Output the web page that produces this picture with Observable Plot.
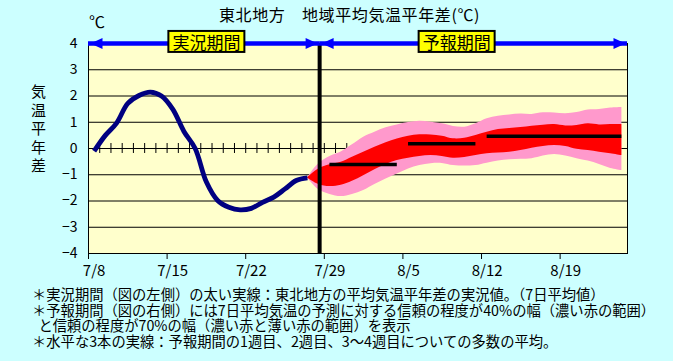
<!DOCTYPE html>
<html>
<head>
<meta charset="utf-8">
<script src="https://cdn.jsdelivr.net/npm/d3@7"></script>
<script src="https://cdn.jsdelivr.net/npm/@observablehq/plot@0.6"></script>
<style>
  body { margin: 0; background: #ccffff; font-family: "Noto Sans CJK JP", sans-serif; color: #000; }
  #wrap { position: relative; width: 673px; height: 361px; overflow: hidden; }
  #chart { position: absolute; left: 0; top: 0; }
  #title { position: absolute; left: 0; width: 699px; top: 4px; text-align: center; font-size: 16px; letter-spacing: 0.6px; line-height: 20px; white-space: pre; }
  #unit { position: absolute; left: 89px; top: 11px; font-size: 16px; line-height: 20px; }
  #ylabel { position: absolute; left: 28px; top: 84px; height: 100px; font-size: 15px; line-height: 20px; writing-mode: vertical-rl; letter-spacing: 3.5px; }
  #notes { position: absolute; left: 32px; top: 286px; font-size: 14.3px; line-height: 15.6px; white-space: pre; }
</style>
</head>
<body>
<div id="wrap">
  <div id="title"></div>
  <div id="unit"></div>
  <div id="ylabel"></div>
  <div id="chart"></div>
  <div id="notes"></div>
</div>
<script>
// ---------- texts ----------
const titleText = "東北地方　地域平均気温平年差(℃)";
const unitText = "℃";
const yLabelText = "気温平年差";
const noteLines = [
  "＊実況期間（図の左側）の太い実線：東北地方の平均気温平年差の実況値。（7日平均値）",
  "＊予報期間（図の右側）には7日平均気温の予測に対する信頼の程度が40%の幅（濃い赤の範囲）",
  "  と信頼の程度が70%の幅（濃い赤と薄い赤の範囲）を表示",
  "＊水平な3本の実線：予報期間の1週目、2週目、3～4週目についての多数の平均。"
];

// ---------- axis ----------
const domainStart = "7/8";
const domainEnd = "8/25";
const weekTicks = ["7/8", "7/15", "7/22", "7/29", "8/5", "8/12", "8/19"];
const yTicks = [-4, -3, -2, -1, 0, 1, 2, 3, 4];
const gridValues = [-3, -2, -1, 0, 1, 2, 3];

// ---------- observed (7-day mean anomaly, daily) ----------
const observedDates = ["7/8","7/9","7/10","7/11","7/12","7/13","7/14","7/15","7/16","7/17",
                       "7/18","7/19","7/20","7/21","7/22","7/23","7/24","7/25","7/26","7/27"];
const observedValues = [-0.1, 0.5, 0.97, 1.72, 2.02, 2.15, 2.0, 1.5, 0.65, 0.0,
                        -1.28, -1.98, -2.24, -2.34, -2.28, -2.05, -1.85, -1.54, -1.22, -1.12];

// ---------- forecast bands ----------
const bandDates = ["7/27","7/28","7/29","7/30","7/31","8/1","8/2","8/3","8/4","8/5",
                   "8/6","8/7","8/8","8/9","8/10","8/11","8/12","8/13","8/14","8/15",
                   "8/16","8/17","8/18","8/19","8/20","8/21","8/22","8/23","8/24"];
const pinkHigh = [-1.12,-0.58,-0.30,-0.13,0.14,0.43,0.62,0.79,0.90,0.99,1.04,1.00,0.94,0.84,0.81,0.94,1.13,1.23,1.28,1.31,1.30,1.36,1.35,1.32,1.37,1.47,1.49,1.54,1.56];
const redHigh  = [-1.12,-0.78,-0.62,-0.52,-0.33,-0.14,0.05,0.22,0.36,0.47,0.52,0.51,0.47,0.37,0.39,0.50,0.62,0.72,0.76,0.80,0.85,0.89,0.91,0.86,0.88,0.94,0.90,0.91,0.91];
const redLow   = [-1.12,-1.37,-1.45,-1.40,-1.25,-1.04,-0.81,-0.61,-0.46,-0.37,-0.30,-0.27,-0.30,-0.37,-0.34,-0.27,-0.20,-0.17,-0.14,-0.08,0.01,0.08,0.11,0.08,-0.03,-0.08,-0.14,-0.20,-0.27];
const pinkLow  = [-1.12,-1.57,-1.75,-1.83,-1.75,-1.60,-1.37,-1.16,-0.97,-0.78,-0.65,-0.58,-0.57,-0.65,-0.67,-0.65,-0.56,-0.48,-0.43,-0.41,-0.39,-0.29,-0.23,-0.29,-0.39,-0.48,-0.61,-0.76,-0.84];

// ---------- weekly ensemble means ----------
const weekStart = ["7/29", "8/5", "8/12"];
const weekEnd   = ["8/4", "8/11", "8/24"];
const weekMean  = [-0.61, 0.18, 0.47];

// ---------- periods ----------
const boundary = "7/28 14";              // observation / forecast boundary (date hour)
const periodLabels = ["実況期間", "予報期間"];
const periodLabelPos = [0.51, 0.445];     // label position within each arrow span

// ---------- helpers ----------
const D = s => {
  const [md, h] = s.split(" ");
  const [m, d] = md.split("/").map(Number);
  return new Date(Date.UTC(2023, m - 1, d, h ? +h : 0));
};
const noon = s => new Date(D(s).getTime() + 12 * 3600e3);
const fmt = d3.utcFormat("%-m/%-d");

const observed = observedDates.map((s, i) => ({date: noon(s), value: observedValues[i]}));
const band = bandDates.map((s, i) => ({date: noon(s), pl: pinkLow[i], ph: pinkHigh[i], rl: redLow[i], rh: redHigh[i]}));
const weeks = weekStart.map((s, i) => ({x1: noon(s), x2: noon(weekEnd[i]), y: weekMean[i]}));
const spans = [[D(domainStart), D(boundary)], [D(boundary), D(domainEnd)]];
const periods = periodLabels.map((label, i) => {
  const [a, b] = spans[i];
  return {label, date: new Date(a.getTime() + (b - a) * periodLabelPos[i])};
});
const dayTicks = d3.utcDay.range(D("7/9"), D(domainEnd));

const triRight = {draw(c) { c.moveTo(0, 0); c.lineTo(-12, -5.5); c.lineTo(-12, 5.5); c.closePath(); }};
const triLeft  = {draw(c) { c.moveTo(0, 0); c.lineTo(12, -5.5); c.lineTo(12, 5.5); c.closePath(); }};

const BLUE = "#0000ff";

const chart = Plot.plot({
  width: 673,
  height: 290,
  marginLeft: 88,
  marginRight: 46,
  marginTop: 43,
  marginBottom: 37,
  style: {background: "transparent", fontFamily: '"Noto Sans CJK JP", sans-serif', fontSize: "14px", color: "#000", overflow: "visible"},
  x: {type: "utc", domain: [D(domainStart), D(domainEnd)]},
  y: {domain: [-4, 4]},
  marks: [
    Plot.frame({fill: "#ffffcc", stroke: null}),
    Plot.ruleY(gridValues, {stroke: "#000", strokeWidth: 1}),
    Plot.ruleX(dayTicks, {x: d => d, y1: -0.19, y2: 0.19, stroke: "#000", strokeWidth: 1}),
    Plot.areaY(band, {x: "date", y1: "pl", y2: "ph", fill: "#ff99cc", curve: "catmull-rom"}),
    Plot.areaY(band, {x: "date", y1: "rl", y2: "rh", fill: "#ff0000", curve: "catmull-rom"}),
    Plot.lineY(observed, {x: "date", y: "value", stroke: "#000080", strokeWidth: 4.8, curve: "catmull-rom", strokeLinecap: "butt"}),
    Plot.ruleY(weeks, {x1: "x1", x2: "x2", y: "y", stroke: "#000", strokeWidth: 3.5}),
    Plot.frame({stroke: "#000", strokeWidth: 1}),
    Plot.ruleX([D(boundary)], {stroke: "#000", strokeWidth: 4}),
    Plot.axisX({ticks: weekTicks.map(D), tickSize: 6, tickFormat: () => "", stroke: "#000"}),
    Plot.axisX({ticks: weekTicks.map(noon), tickSize: 0, tickPadding: 12, tickFormat: fmt, fontSize: 15, fill: "#000"}),
    Plot.axisY({ticks: yTicks, tickSize: 0, tickPadding: 11, fontSize: 14, fill: "#000"}),
    Plot.ruleY(spans, {x1: d => d[0], x2: d => d[1], y: 4, stroke: BLUE, strokeWidth: 4.5}),
    Plot.dot(spans, {x: d => d[0], y: 4, symbol: triLeft, fill: BLUE, stroke: null, dx: 2, r: 5}),
    Plot.dot(spans, {x: d => d[1], y: 4, symbol: triRight, fill: BLUE, stroke: null, dx: -2, r: 5}),
    Plot.text(periods, {x: "date", y: 4, text: "label", fontSize: 17, fill: "#000"})
  ]
});

document.getElementById("chart").appendChild(chart);

// yellow boxes behind period labels
Array.from(chart.querySelectorAll("text"))
  .filter(t => periodLabels.includes(t.textContent))
  .forEach(t => {
    const b = t.getBBox();
    const cy = b.y + b.height / 2;
    const r = document.createElementNS("http://www.w3.org/2000/svg", "rect");
    r.setAttribute("x", b.x - 4);
    r.setAttribute("y", cy - 10.5);
    r.setAttribute("width", b.width + 8);
    r.setAttribute("height", 21);
    r.setAttribute("fill", "#ffff00");
    r.setAttribute("stroke", "#000");
    r.setAttribute("stroke-width", 2);
    const tr = t.getAttribute("transform");
    if (tr) r.setAttribute("transform", tr);
    t.parentNode.insertBefore(r, t);
  });

document.getElementById("title").textContent = titleText;
document.getElementById("unit").textContent = unitText;
document.getElementById("ylabel").textContent = yLabelText;
document.getElementById("notes").textContent = noteLines.join("\n");
</script>
</body>
</html>
